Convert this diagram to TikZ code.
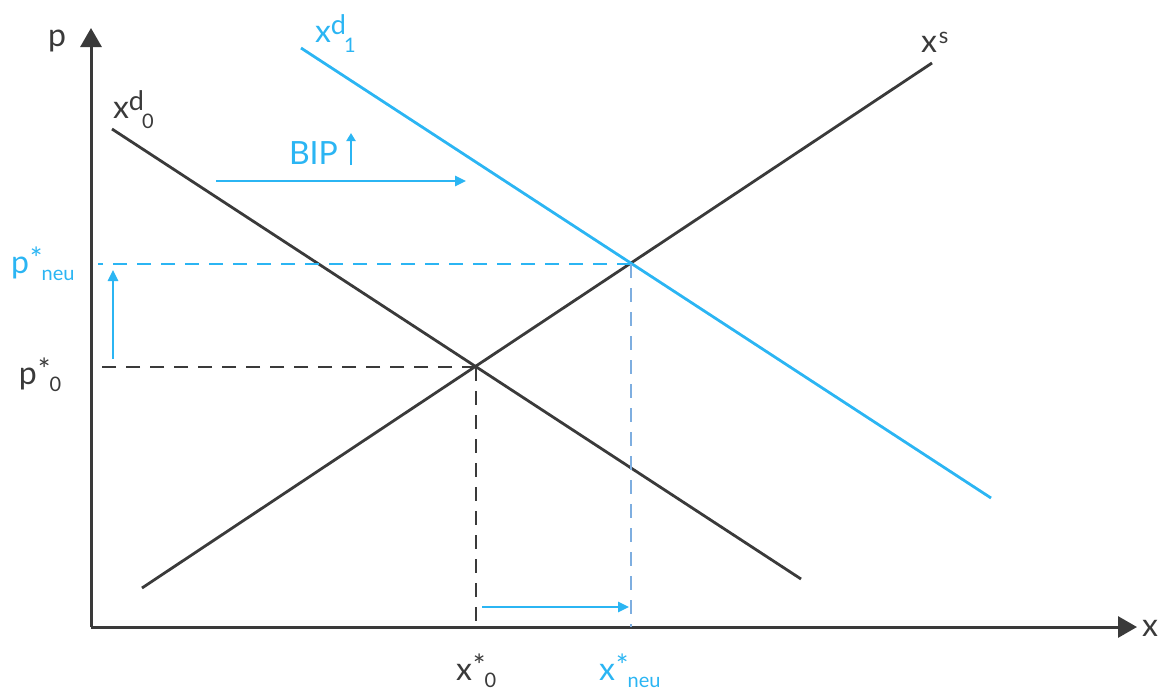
\documentclass[tikz,border=0pt]{standalone}
\usepackage{fontspec}
\setmainfont{Lato}
\usetikzlibrary{arrows.meta}
\definecolor{ax}{HTML}{3A3A3A}
\definecolor{sky}{HTML}{2BB5F3}
\definecolor{pale}{HTML}{7EAEE0}
\newcommand\supfont{\fontsize{27}{27}\selectfont}
\newcommand\astfont{\fontsize{30}{30}\selectfont}
\newcommand\subfont{\fontsize{20}{20}\selectfont}
\newcommand\lblss[3]{#1\raisebox{8pt}{\supfont #2}\kern-2pt\raisebox{-10pt}{\subfont #3}}
\newcommand\lblst[3]{#1\kern1pt\raisebox{4pt}{\astfont #2}\kern-1pt\raisebox{-7pt}{\subfont #3}}
\begin{document}
\begin{tikzpicture}[x=1pt,y=-1pt,
  every node/.style={inner sep=0pt,outer sep=0pt,font=\fontsize{32}{36}\selectfont},
  axis/.style={ax,line width=3pt,-{Triangle[length=19pt,width=21pt]}},
  curve/.style={line width=2.8pt},
  dash0/.style={ax,line width=2.5pt,dash pattern=on 14pt off 10pt},
  dashb/.style={sky,line width=2.5pt,dash pattern=on 14pt off 10pt},
  dashp/.style={pale,line width=2.5pt,dash pattern=on 14pt off 10pt},
  barr/.style={sky,line width=2.5pt,-{Triangle[length=11pt,width=10pt]}}]
\useasboundingbox (0,0) rectangle (1159,689);
% coordinates
\coordinate (O) at (91,627);
\coordinate (ytip) at (91,28);
\coordinate (xtip) at (1137,627);
\coordinate (d0a) at (112,129);
\coordinate (d0b) at (801,579);
\coordinate (sa) at (142,588);
\coordinate (sb) at (932,63);
\coordinate (d1a) at (301,48);
\coordinate (d1b) at (991,498);
\coordinate (E0) at (476,367);
\coordinate (E1) at (631,264);
\coordinate (p0ax) at (92,367);
\coordinate (pnax) at (98,264);
\coordinate (x0ax) at (476,627);
\coordinate (xnax) at (631,627);
\coordinate (bipa) at (216,181);
\coordinate (bipb) at (466,181);
\coordinate (upa) at (113,359);
\coordinate (upb) at (113,270);
\coordinate (ra) at (482,607);
\coordinate (rb) at (629,607);
\coordinate (smalla) at (351,165);
\coordinate (smallb) at (351,133);
% axes
\draw[axis] (O) -- (ytip);
\draw[axis] (O) -- (xtip);
% curves
\draw[curve,ax] (d0a) -- (d0b);
\draw[curve,ax] (sa) -- (sb);
\draw[curve,sky] (d1a) -- (d1b);
% dashed
\draw[dash0] (E0) -- (p0ax);
\draw[dash0] (E0) -- (x0ax);
\draw[dashb] (E1) -- (pnax);
\draw[dashp] (E1) -- (xnax);
% arrows
\draw[barr] (bipa) -- (bipb);
\draw[barr] (upa) -- (upb);
\draw[barr] (ra) -- (rb);
\draw[sky,line width=2.3pt,-{Triangle[length=8pt,width=9pt]}] (smalla) -- (smallb);
% labels
\node[anchor=base,text=ax] (lp) at (57,46) {p};
\node[anchor=base,text=ax] (lx) at (1150,636) {x};
\node[anchor=base west,text=ax] (ld0) at (113,118) {\lblss{x}{d}{0}};
\node[anchor=base west,text=sky] (ld1) at (315,42) {\lblss{x}{d}{1}};
\node[anchor=base west,text=ax] (ls) at (921,52) {x\kern2pt\raisebox{9pt}{\fontsize{22}{22}\selectfont s}};
\node[anchor=base west,text=sky] (lbip) at (289,164) {BIP};
\node[anchor=base west,text=sky] (lpn) at (11,273) {\lblst{p}{*}{neu}};
\node[anchor=base west,text=ax] (lp0) at (19,384) {\lblst{p}{*}{0}};
\node[anchor=base west,text=ax] (lx0) at (456,680) {\lblst{x}{*}{0}};
\node[anchor=base west,text=sky] (lxn) at (599,680) {\lblst{x}{*}{neu}};
\end{tikzpicture}
\end{document}
